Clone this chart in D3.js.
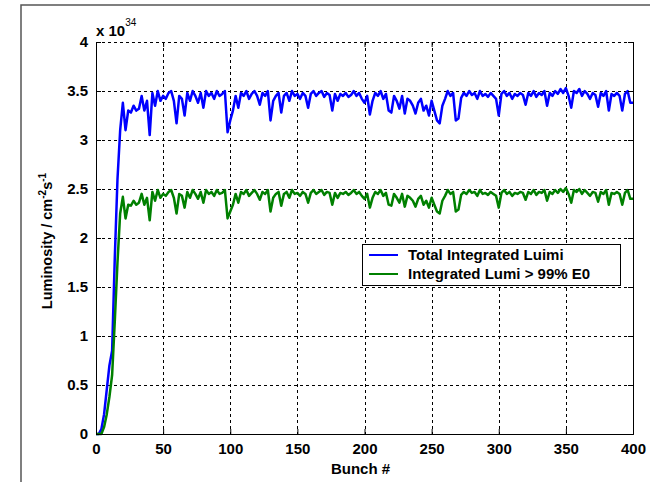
<!DOCTYPE html>
<html>
<head>
<meta charset="utf-8">
<script src="https://cdn.jsdelivr.net/npm/d3@7"></script>
<style>
html,body{margin:0;padding:0;background:#fff;}
svg{display:block;font-family:"Liberation Sans",Arial,sans-serif;}
</style>
</head>
<body>
<svg id="chart" width="650" height="482"></svg>
<script>
// Bunch numbers (step 2)
const bunches = d3.range(0, 401, 2);
// Total integrated luminosity (x 1e34)
const totalLumi = [
0,0,0.05,0.2,0.45,0.7,0.85,1.8,2.6,3.1,
3.38,3.1,3.3,3.28,3.35,3.3,3.32,3.45,3.3,3.4,
3.05,3.48,3.35,3.5,3.4,3.45,3.42,3.48,3.5,3.4,
3.17,3.45,3.42,3.25,3.48,3.4,3.5,3.45,3.38,3.48,
3.33,3.5,3.45,3.48,3.42,3.5,3.45,3.47,3.5,3.08,
3.2,3.3,3.45,3.33,3.48,3.45,3.5,3.42,3.47,3.5,
3.45,3.36,3.48,3.45,3.5,3.2,3.4,3.45,3.48,3.28,
3.45,3.48,3.4,3.5,3.45,3.47,3.42,3.48,3.45,3.33,
3.47,3.5,3.45,3.48,3.5,3.44,3.48,3.46,3.3,3.47,
3.4,3.47,3.45,3.48,3.44,3.46,3.5,3.45,3.48,3.42,
3.38,3.45,3.26,3.4,3.48,3.45,3.5,3.42,3.47,3.3,
3.28,3.45,3.4,3.32,3.45,3.27,3.42,3.4,3.35,3.27,
3.38,3.42,3.3,3.35,3.25,3.4,3.3,3.2,3.17,3.35,
3.42,3.5,3.45,3.48,3.2,3.22,3.43,3.48,3.45,3.5,
3.46,3.48,3.42,3.5,3.45,3.47,3.44,3.48,3.45,3.42,
3.25,3.47,3.5,3.45,3.48,3.42,3.47,3.45,3.48,3.46,
3.36,3.48,3.45,3.5,3.44,3.48,3.46,3.5,3.35,3.48,
3.45,3.5,3.47,3.52,3.48,3.53,3.45,3.33,3.5,3.48,
3.52,3.45,3.5,3.47,3.42,3.48,3.46,3.34,3.48,3.45,
3.5,3.3,3.47,3.45,3.48,3.45,3.3,3.47,3.5,3.38,
3.38
];
// Integrated luminosity > 99% E0 (x 1e34)
const lumi99 = [
0,0,0,0.07,0.2,0.38,0.6,1.15,1.75,2.25,
2.42,2.2,2.34,2.33,2.38,2.34,2.36,2.45,2.34,2.41,
2.18,2.47,2.38,2.49,2.41,2.45,2.43,2.47,2.49,2.41,
2.25,2.45,2.43,2.31,2.47,2.41,2.49,2.45,2.4,2.47,
2.36,2.49,2.45,2.47,2.43,2.49,2.45,2.46,2.49,2.2,
2.27,2.34,2.45,2.36,2.47,2.45,2.49,2.43,2.46,2.49,
2.45,2.39,2.47,2.45,2.49,2.27,2.41,2.45,2.47,2.33,
2.45,2.47,2.41,2.49,2.45,2.46,2.43,2.47,2.45,2.36,
2.46,2.49,2.45,2.47,2.49,2.44,2.47,2.46,2.34,2.46,
2.41,2.46,2.45,2.47,2.44,2.46,2.49,2.45,2.47,2.43,
2.4,2.45,2.31,2.41,2.47,2.45,2.49,2.43,2.46,2.34,
2.33,2.45,2.41,2.36,2.45,2.32,2.43,2.41,2.38,2.32,
2.4,2.43,2.34,2.38,2.31,2.41,2.34,2.27,2.25,2.38,
2.43,2.49,2.45,2.47,2.27,2.29,2.44,2.47,2.45,2.49,
2.46,2.47,2.43,2.49,2.45,2.46,2.44,2.47,2.45,2.43,
2.31,2.46,2.49,2.45,2.47,2.43,2.46,2.45,2.47,2.46,
2.39,2.47,2.45,2.49,2.44,2.47,2.46,2.49,2.38,2.47,
2.45,2.49,2.46,2.5,2.47,2.51,2.45,2.36,2.49,2.47,
2.5,2.45,2.49,2.46,2.43,2.47,2.46,2.37,2.47,2.45,
2.49,2.34,2.46,2.45,2.47,2.45,2.34,2.46,2.49,2.4,
2.4
];
const xTicks = [0,50,100,150,200,250,300,350,400];
const yTicks = [0,0.5,1,1.5,2,2.5,3,3.5,4];
const seriesNames = ["Total Integrated Luimi", "Integrated Lumi > 99% E0"];
const seriesColors = ["#0000ff", "#008000"];

const svg = d3.select("#chart");
const L = 96, R = 633, T = 42, B = 434;

// figure frame
svg.append("rect").attr("x",21).attr("y",5).attr("width",700).attr("height",600)
  .attr("fill","#fff").attr("stroke","#555").attr("stroke-width",1.5);

const x = d3.scaleLinear().domain([0,400]).range([L,R]);
const y = d3.scaleLinear().domain([0,4]).range([B,T]);

// grid
const grid = svg.append("g").attr("stroke","#000").attr("stroke-width",1).attr("stroke-dasharray","3,3");
xTicks.slice(1,-1).forEach(t=>{
  grid.append("line").attr("x1",Math.round(x(t))+0.5).attr("x2",Math.round(x(t))+0.5).attr("y1",T).attr("y2",B);
});
yTicks.slice(1,-1).forEach(t=>{
  grid.append("line").attr("y1",Math.round(y(t))+0.5).attr("y2",Math.round(y(t))+0.5).attr("x1",L).attr("x2",R);
});
svg.append("line").attr("x1",L).attr("x2",R).attr("y1",T+0.5).attr("y2",T+0.5)
  .attr("stroke","#000").attr("stroke-dasharray","3,3");

// lines
const line = d3.line().x((d,i)=>x(bunches[i])).y(d=>y(d)).curve(d3.curveLinear);
[totalLumi, lumi99].forEach((s,k)=>{
  svg.append("path").datum(s).attr("d",line).attr("fill","none")
    .attr("stroke",seriesColors[k]).attr("stroke-width",2.5).attr("stroke-linejoin","round");
});

// axes
const xAxis = d3.axisBottom(x).tickValues(xTicks).tickSize(-5).tickPadding(9).tickFormat(d3.format("d"));
const gx = svg.append("g").attr("transform",`translate(0,${B})`).call(xAxis);
const yAxis = d3.axisLeft(y).tickValues(yTicks).tickSize(-5).tickPadding(8).tickFormat(d=>d);
const gy = svg.append("g").attr("transform",`translate(${L},0)`).call(yAxis);
[gx,gy].forEach(g=>{
  g.selectAll("text").attr("font-size","15px").attr("font-weight","bold")
   .attr("fill","#000").attr("font-family","Liberation Sans, Arial, sans-serif");
  g.select(".domain").attr("stroke","#000");
  g.selectAll(".tick line").attr("stroke","#000");
});
svg.append("g").attr("transform",`translate(0,${T})`).call(d3.axisTop(x).tickValues(xTicks).tickSize(-5).tickFormat(""))
  .call(g=>{g.select(".domain").remove(); g.selectAll("line").attr("stroke","#000");});
svg.append("g").attr("transform",`translate(${R},0)`).call(d3.axisRight(y).tickValues(yTicks).tickSize(-5).tickFormat(""))
  .call(g=>{g.select(".domain").attr("stroke","#000"); g.selectAll("line").attr("stroke","#000");});

// exponent label
const ex = svg.append("text").attr("x",L).attr("y",T-6).attr("font-size","15px").attr("font-weight","bold");
ex.append("tspan").text("x 10");
ex.append("tspan").attr("dy",-10).attr("font-size","10px").attr("font-weight","normal").text("34");

// axis titles
svg.append("text").attr("x",(L+R)/2 - 4).attr("y",474).attr("text-anchor","middle")
  .attr("font-size","15px").attr("font-weight","bold").text("Bunch #");
const yt = svg.append("text").attr("transform",`translate(52,${(T+B)/2 + 3}) rotate(-90)`)
  .attr("text-anchor","middle").attr("font-size","14.5px").attr("font-weight","bold");
yt.append("tspan").text("Luminosity / cm");
yt.append("tspan").attr("dy",-6).attr("font-size","10px").text("-2");
yt.append("tspan").attr("dy",6).text("s");
yt.append("tspan").attr("dy",-6).attr("font-size","10px").text("-1");

// legend
const lg = svg.append("g");
lg.append("rect").attr("x",362.5).attr("y",244.5).attr("width",258).attr("height",41)
  .attr("fill","#fff").attr("stroke","#000").attr("stroke-width",1);
seriesNames.forEach((n,k)=>{
  const yy = 255 + k*19;
  lg.append("line").attr("x1",369).attr("x2",398).attr("y1",yy).attr("y2",yy)
    .attr("stroke",seriesColors[k]).attr("stroke-width",2);
  lg.append("text").attr("x",408).attr("y",yy+5).attr("font-size","15px").attr("font-weight","bold").text(n);
});
</script>
</body>
</html>
